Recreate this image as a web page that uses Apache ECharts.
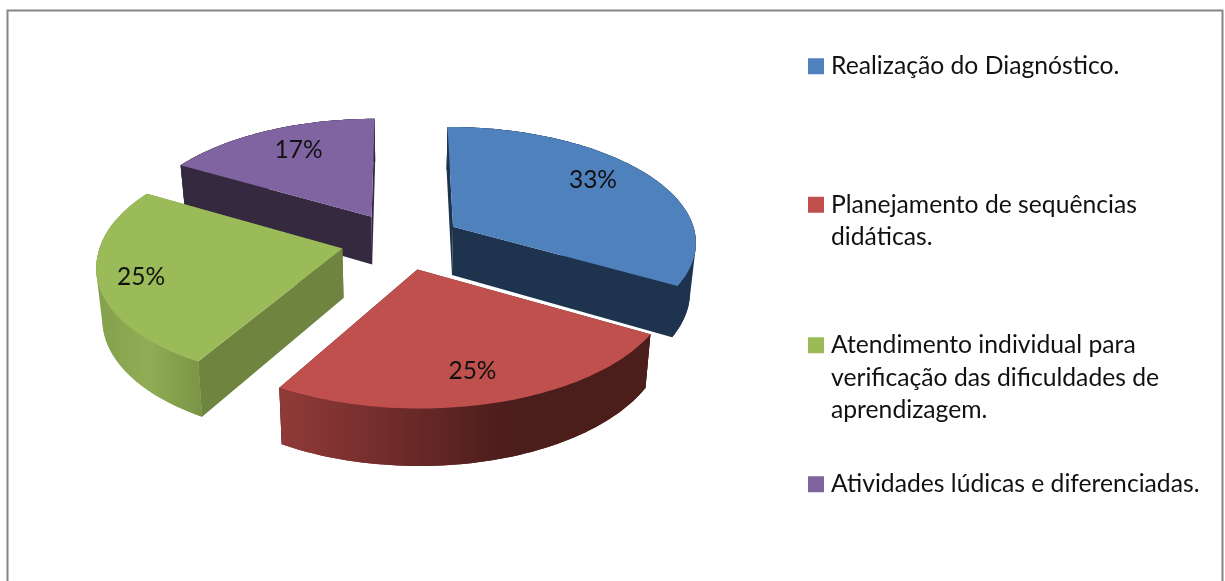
<!DOCTYPE html>
<html>
<head>
<meta charset="utf-8">
<style>html,body{margin:0;padding:0;background:#fff}#c{width:1225px;height:581px}</style>
<script src="https://cdn.jsdelivr.net/npm/echarts@6/dist/echarts.min.js"></script>
</head>
<body>
<div id="c"></div>
<script>
const categories = [
  'Realização do Diagnóstico.',
  'Planejamento de sequências\ndidáticas.',
  'Atendimento individual para\nverificação das dificuldades de\naprendizagem.',
  'Atividades lúdicas e diferenciadas.'
];
const percentages = [33.3, 25, 25, 16.7];

const topColors = ['#4F81BD', '#C0504D', '#9BBB59', '#8064A2'];
const faceColors = ['#1E334E', '#4B1D1B', '#6E843F', '#35293F'];
const layering = [3, 5, 4, 2];
const labelPlace = [[0.76, -4.9], [0.78, 0.8], [0.83, -1.6], [0.74, 2.4]];
const legendTops = [50, 156, 264, 468];
const FONT = 'Lato, Carlito, "Open Sans", sans-serif';

// projection of the tilted, exploded pie
const X0 = 401, Y0 = 241, A = 244, A_FAR_LEFT = 3, B = 115, P = 0.119, EXPLODE = 0.25, DEPTH = 49, SHRINK = 0.98;
const total = percentages.reduce((s, v) => s + v, 0);
const rad = d => d * Math.PI / 180;

function project(u, v, low) {
  const w = 1 / (1 - P * v);
  const far = Math.max(0, Math.min(1, (0.9 - v) / 0.8));
  const a = u < 0 ? A - A_FAR_LEFT * far : A;
  return low
    ? [X0 + a * u * w * SHRINK, Y0 + B * v * w + DEPTH * w]
    : [X0 + a * u * w, Y0 + B * v * w];
}

function hull(points) {
  const p = points.slice().sort((a, b) => a[0] - b[0] || a[1] - b[1]);
  const cross = (o, a, b) => (a[0] - o[0]) * (b[1] - o[1]) - (a[1] - o[1]) * (b[0] - o[0]);
  const lower = [], upper = [];
  p.forEach(q => {
    while (lower.length > 1 && cross(lower[lower.length - 2], lower[lower.length - 1], q) <= 0) lower.pop();
    lower.push(q);
  });
  p.slice().reverse().forEach(q => {
    while (upper.length > 1 && cross(upper[upper.length - 2], upper[upper.length - 1], q) <= 0) upper.pop();
    upper.push(q);
  });
  return lower.slice(0, -1).concat(upper.slice(0, -1));
}

function sideGradient(i) {
  if (i === 1) return {type: 'linear', global: true, x: 280, y: 0, x2: 650, y2: 0, colorStops: [
    {offset: 0, color: '#903A38'}, {offset: 0.3, color: '#702C2B'}, {offset: 0.62, color: '#4B1D1B'}, {offset: 1, color: '#4B1D1B'}]};
  if (i === 2) return {type: 'linear', global: true, x: 96, y: 0, x2: 202, y2: 0, colorStops: [
    {offset: 0, color: '#84A04C'}, {offset: 0.5, color: '#90AC54'}, {offset: 1, color: '#7A9446'}]};
  return faceColors[i];
}

function renderer(i) {
  return function (params, api) {
    const value = api.value(0);
    let before = 0;
    for (let k = 0; k < i; k++) before += percentages[k];
    const a0 = before / total * 360, a1 = a0 + value / total * 360, mid = (a0 + a1) / 2;
    const cx = EXPLODE * Math.sin(rad(mid)), cy = -EXPLODE * Math.cos(rad(mid));
    const rim = (t, low) => project(cx + Math.sin(rad(t)), cy - Math.cos(rad(t)), low);
    const apex = low => project(cx, cy, low);
    const topArc = [], lowArc = [];
    for (let t = a0; t < a1; t += 1.5) { topArc.push(rim(t, false)); lowArc.push(rim(t, true)); }
    topArc.push(rim(a1, false)); lowArc.push(rim(a1, true));
    const poly = (pts, fill) => ({type: 'polygon', shape: {points: pts}, style: {fill: fill}, silent: true});
    const face = t => poly([apex(false), rim(t, false), rim(t, true), apex(true)], faceColors[i]);
    const lab = labelPlace[i];
    const lt = mid + lab[1];
    const lp = project(cx + lab[0] * Math.sin(rad(lt)), cy - lab[0] * Math.cos(rad(lt)), false);
    return {type: 'group', children: [
      poly(hull(topArc.concat(lowArc)), sideGradient(i)),
      face(a0), face(a1),
      poly(topArc.concat(lowArc.slice().reverse()), sideGradient(i)),
      poly([apex(false)].concat(topArc), topColors[i]),
      {type: 'text', silent: true, style: {
        text: Math.round(value) + '%', x: lp[0], y: lp[1], fill: '#111',
        font: '24.5px ' + FONT, textAlign: 'center', textVerticalAlign: 'middle'}}
    ]};
  };
}

const chart = echarts.init(document.getElementById('c'), null, {renderer: 'canvas'});
chart.setOption({
  animation: false,
  backgroundColor: '#ffffff',
  graphic: [{type: 'rect', silent: true, shape: {x: 7.5, y: 10.5, width: 1215, height: 600},
    style: {fill: 'none', stroke: '#868686', lineWidth: 2}}],
  legend: categories.map((c, i) => ({
    data: [c], left: 808, top: legendTops[i], padding: 0, orient: 'vertical',
    icon: 'rect', itemWidth: 16, itemHeight: 16, selectedMode: false,
    formatter: name => {
      const n = name.split('\n').length - 1;
      return ' \n'.repeat(n) + name;
    },
    textStyle: {fontFamily: FONT, fontSize: 24.7, lineHeight: 32.5, color: '#111', padding: [0, 0, 0, 2]}
  })),
  series: categories.map((c, i) => ({
    type: 'custom', name: c, coordinateSystem: 'none', z: layering[i],
    itemStyle: {color: topColors[i]},
    data: [[percentages[i]]],
    renderItem: renderer(i)
  }))
});
</script>
</body>
</html>
